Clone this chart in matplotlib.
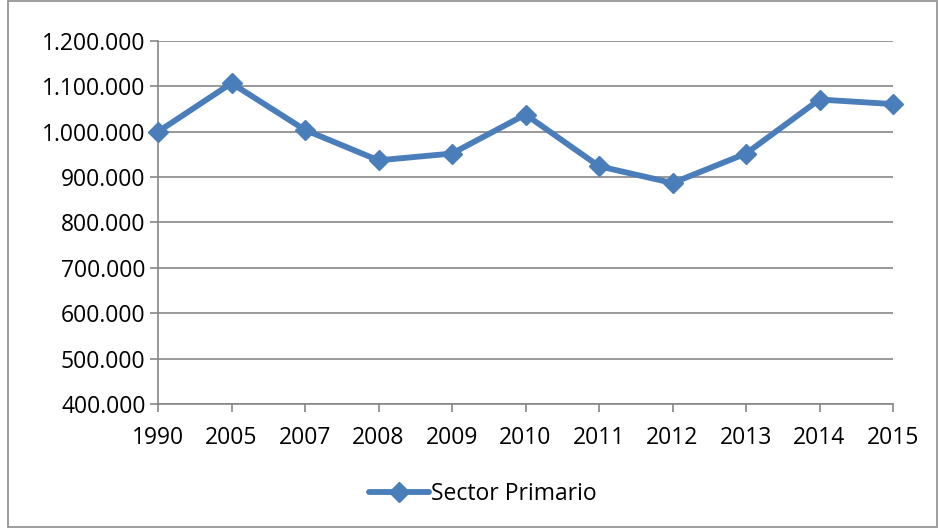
import matplotlib.pyplot as plt
from matplotlib.patches import Rectangle
from matplotlib.ticker import FuncFormatter

# Datos
years = ["1990", "2005", "2007", "2008", "2009", "2010", "2011", "2012", "2013", "2014", "2015"]
sector_primario = [1000000, 1107000, 1004000, 937000, 952000, 1038000, 924000, 887000, 952000, 1071000, 1061000]
y_ticks = [400000, 500000, 600000, 700000, 800000, 900000, 1000000, 1100000, 1200000]

plt.rcParams['font.family'] = ['Open Sans', 'DejaVu Sans']

fig = plt.figure(figsize=(9.39, 5.28), dpi=100)
ax = fig.add_axes([158 / 939, 1 - 404 / 528, (893 - 158) / 939, (404 - 41) / 528])

# marco exterior
fig.patches.append(Rectangle((8 / 939, 0.001), 929 / 939, 0.997, transform=fig.transFigure,
                             fill=False, edgecolor='#8c8c8c', linewidth=1.2))

x = list(range(len(years)))
ax.plot(x, sector_primario, color='#4a7ebb', linewidth=4.2, marker='D', markersize=10,
        label='Sector Primario', solid_capstyle='round', zorder=3, clip_on=False)

ax.set_xlim(0, len(years) - 1)
ax.set_ylim(400000, 1200000)
ax.set_xticks(x)
ax.set_xticklabels(years)
ax.set_yticks(y_ticks)
ax.yaxis.set_major_formatter(FuncFormatter(lambda v, p: f"{int(v):,}".replace(",", ".")))

ax.grid(axis='y', color='#868686', linewidth=1.2)
ax.set_axisbelow(True)
for s in ['top', 'right']:
    ax.spines[s].set_visible(False)
for s in ['left', 'bottom']:
    ax.spines[s].set_color('#868686')
    ax.spines[s].set_linewidth(1.2)
ax.tick_params(axis='both', colors='#868686', labelcolor='black', labelsize=16.5, width=1.2, length=6)
ax.tick_params(axis='x', pad=10)
ax.tick_params(axis='y', pad=3)

fig.legend(loc='center', bbox_to_anchor=(483 / 939, 1 - 494 / 528), frameon=False,
           fontsize=16.5, handlelength=2.6, handletextpad=0.1)

fig.savefig('out.png', dpi=100)
